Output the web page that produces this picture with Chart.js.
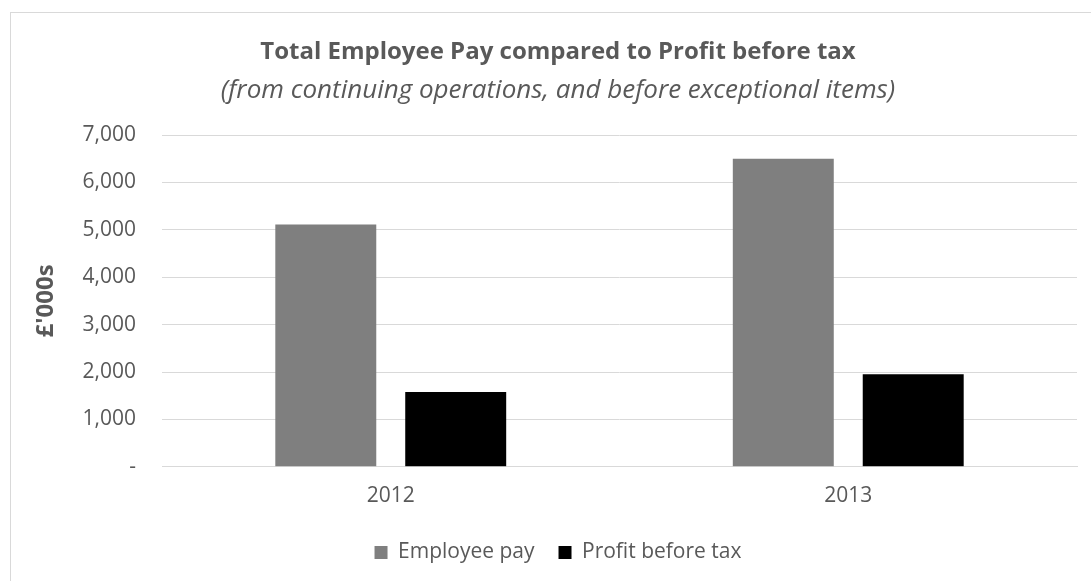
<!DOCTYPE html>
<html>
<head>
<meta charset="utf-8">
<script src="https://cdn.jsdelivr.net/npm/chart.js@4"></script>
<style>
	body { margin: 0; background: #fff; }
	#wrap { position: relative; width: 1091px; height: 581px; }
	#frame { position: absolute; left: 10px; top: 12px; width: 1085px; height: 580px; border: 1px solid #d9d9d9; box-sizing: border-box; }
	canvas { position: absolute; left: 0; top: 0; }
</style>
</head>
<body>
<div id="wrap">
	<div id="frame"></div>
	<canvas id="chart" width="1091" height="581"></canvas>
</div>
<script>
const years = ["2012", "2013"];
const employeePay = [5110, 6500];
const profitBeforeTax = [1580, 1955];
const yTicks = [0, 1000, 2000, 3000, 4000, 5000, 6000, 7000];

const textColor = "#595959";
const gridColor = "#d9d9d9";

const ctx = document.getElementById("chart").getContext("2d");
new Chart(ctx, {
	type: "bar",
	data: {
		labels: years,
		datasets: [
			{
				label: "Employee pay",
				data: employeePay,
				backgroundColor: "#7f7f7f",
				categoryPercentage: 0.568,
				barPercentage: 0.777,
			},
			{
				label: "Profit before tax",
				data: profitBeforeTax,
				backgroundColor: "#000000",
				categoryPercentage: 0.568,
				barPercentage: 0.777,
			},
		],
	},
	options: {
		responsive: false,
		animation: false,
		layout: { padding: { top: 28, left: 39, right: 14, bottom: 8 } },
		plugins: {
			title: {
				display: true,
				text: "Total Employee Pay compared to Profit before tax",
				color: textColor,
				font: { family: "Open Sans", size: 24, weight: "bold" },
				padding: { top: 10, bottom: 4 },
			},
			subtitle: {
				display: true,
				text: "(from continuing operations, and before exceptional items)",
				color: textColor,
				font: { family: "Open Sans", size: 26, style: "italic" },
				padding: { top: 4, bottom: 29 },
			},
			legend: {
				position: "bottom",
				labels: {
					color: textColor,
					font: { family: "Open Sans", size: 21 },
					boxWidth: 13,
					boxHeight: 13,
					padding: 24,
				},
			},
			tooltip: { enabled: false },
		},
		scales: {
			x: {
				grid: { display: false },
				border: { color: gridColor },
				ticks: {
					color: textColor,
					font: { family: "Open Sans", size: 21 },
					padding: 9,
				},
			},
			y: {
				min: 0,
				max: 7000,
				afterBuildTicks: (scale) => {
					scale.ticks = yTicks.map((v) => ({ value: v }));
				},
				afterFit: (scale) => {
					scale.width = 123;
				},
				grid: { color: gridColor, drawTicks: false },
				border: { display: false },
				ticks: {
					color: textColor,
					font: { family: "Open Sans", size: 21 },
					padding: 26,
					callback: (v) => (v === 0 ? "-" : v.toLocaleString("en-US")),
				},
				title: {
					display: true,
					text: "£'000s",
					color: textColor,
					font: { family: "Open Sans", size: 24, weight: "bold", lineHeight: 0.6 },
					padding: 0,
				},
			},
		},
	},
});
</script>
</body>
</html>
